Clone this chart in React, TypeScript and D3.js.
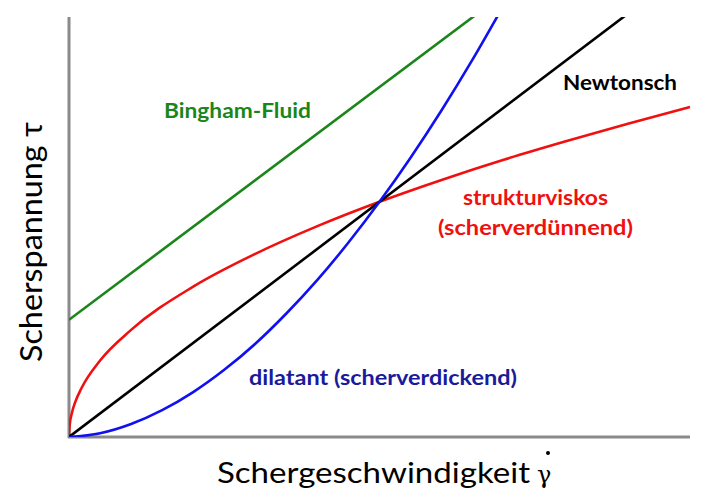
import * as d3 from 'd3'

// shear rate (x) and shear stress (y), arbitrary units 0..10
const newtonX = [0, 9]
const newtonY = [0, 10.08]

const binghamX = [0, 7]
const binghamY = [2.79, 10.55]

const strukturX = [0, 0.01, 0.05, 0.1, 0.2, 0.5, 1, 2, 3, 4, 5, 6, 7, 8, 9, 10]
const strukturY = [0, 0.27, 0.59, 0.83, 1.16, 1.82, 2.55, 3.58, 4.36, 5.02, 5.6, 6.12, 6.6, 7.04, 7.46, 7.86]

const dilatantX = [0, 0.5, 1, 1.5, 2, 2.5, 3, 3.5, 4, 4.5, 5, 5.5, 6, 6.5, 7]
const dilatantY = [0, 0.09, 0.31, 0.64, 1.07, 1.6, 2.22, 2.94, 3.74, 4.63, 5.6, 6.65, 7.78, 8.99, 10.28]

const W = 714
const H = 499
const left = 69
const right = 690
const top = 17
const bottom = 437

const x = d3.scaleLinear().domain([0, 10]).range([left, right])
const y = d3.scaleLinear().domain([0, 10]).range([bottom, top])

const zip = (xs: number[], ys: number[]) => xs.map((v, i) => [v, ys[i]] as [number, number])

const line = d3
  .line<[number, number]>()
  .x((d) => x(d[0]))
  .y((d) => y(d[1]))
  .curve(d3.curveMonotoneX)

const series = [
  { name: 'bingham', pts: zip(binghamX, binghamY), color: '#1a861a' },
  { name: 'struktur', pts: zip(strukturX, strukturY), color: '#f01010' },
  { name: 'newton', pts: zip(newtonX, newtonY), color: '#000000' },
  { name: 'dilatant', pts: zip(dilatantX, dilatantY), color: '#1010f0' },
]

const labelFont = 'Lato, "Open Sans", sans-serif'

export default function App() {
  return (
    <svg
      width={W}
      height={H}
      viewBox={`0 0 ${W} ${H}`}
      style={{ position: 'fixed', left: 0, top: 0, background: '#fff' }}
    >
      <defs>
        <clipPath id="plot">
          <rect x={left} y={top} width={right - left + 5} height={bottom - top} />
        </clipPath>
      </defs>

      {/* axes */}
      <line x1={x(0)} y1={y(0) + 1} x2={x(0)} y2={top} stroke="#8a8a8a" strokeWidth={3} />
      <line x1={x(0) - 1} y1={y(0)} x2={x(10)} y2={y(0)} stroke="#8a8a8a" strokeWidth={3} />

      <g clipPath="url(#plot)" fill="none" strokeWidth={2.6}>
        {series.map((s) => (
          <path key={s.name} d={line(s.pts) ?? ''} stroke={s.color} />
        ))}
      </g>

      {/* curve labels */}
      <g fontFamily={labelFont} fontWeight="bold" fontSize={21}>
        <text x={164} y={118} fill="#1a861a" textLength={147} lengthAdjust="spacingAndGlyphs">
          Bingham-Fluid
        </text>
        <text x={563} y={90} fill="#000" textLength={114} lengthAdjust="spacingAndGlyphs">
          Newtonsch
        </text>
        <text x={463} y={205} fill="#f01010" textLength={145} lengthAdjust="spacingAndGlyphs">
          strukturviskos
        </text>
        <text x={438} y={235} fill="#f01010" textLength={195} lengthAdjust="spacingAndGlyphs">
          (scherverdünnend)
        </text>
        <text x={249} y={385} fill="#1a1a9c" textLength={268} lengthAdjust="spacingAndGlyphs">
          dilatant (scherverdickend)
        </text>
      </g>

      {/* axis titles */}
      <text
        transform="translate(42,362) rotate(-90)"
        fontFamily={labelFont}
        fontSize={31}
        fill="#000"
        textLength={240}
        lengthAdjust="spacingAndGlyphs"
      >
        Scherspannung τ
      </text>
      <text
        x={217}
        y={483}
        fontFamily={labelFont}
        fontSize={29}
        fill="#000"
        textLength={313}
        lengthAdjust="spacingAndGlyphs"
      >
        Schergeschwindigkeit
      </text>
      <text x={537} y={483} fontFamily='"DejaVu Serif", serif' fontSize={24} fill="#000">
        γ
      </text>
      <circle cx={548} cy={453} r={2} fill="#000" />
    </svg>
  )
}
